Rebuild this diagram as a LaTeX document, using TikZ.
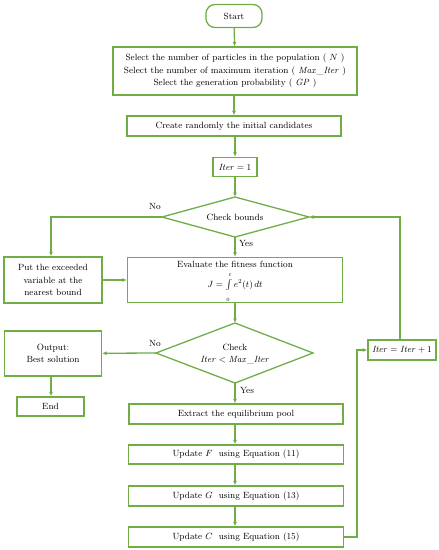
\documentclass[tikz,border=0pt]{standalone}
\usetikzlibrary{arrows.meta,shapes.geometric}
\definecolor{fc}{RGB}{112,173,71}
\begin{document}
\begin{tikzpicture}[x=1pt,y=-1pt,
  every node/.style={font=\fontsize{9}{12.5}\selectfont, inner sep=0pt, align=center},
  box/.style={draw=fc, line width=1.3pt, rectangle},
  lab/.style={font=\fontsize{9}{11}\selectfont},
  conn/.style={draw=fc, line width=1.3pt, -{Latex[length=4.5pt,width=4pt]}},
  plain/.style={draw=fc, line width=1.3pt}]
\useasboundingbox (0,0) rectangle (439,550);
\node[box, rounded corners=9pt, minimum width=56pt, minimum height=23pt] (start) at (234,16) {Start};
\node[box, minimum width=244pt, minimum height=48pt] (sel) at (235,71)
  {Select the number of particles in the population ( $N$ )\\
   Select the number of maximum iteration ( $\mathit{Max}\_\mathit{Iter}$ )\\
   Select the generation probability ( $\mathit{GP}$ )};
\node[box, minimum width=214pt, minimum height=20pt] (create) at (234,126) {Create randomly the initial candidates};
\node[box, minimum width=44pt, minimum height=19pt] (it1) at (235,167) {$\mathit{Iter}=1$};
\coordinate (cbL) at (162,217);
\coordinate (cbR) at (309,217);
\coordinate (cbT) at (235,197);
\coordinate (cbB) at (235,237);
\draw[plain] (cbT) -- (cbR) -- (cbB) -- (cbL) -- cycle;
\node (cb) at (235,217) {Check bounds};
\node[box, minimum width=98pt, minimum height=46pt] (put) at (53,280)
  {Put the exceeded\\ variable at the\\ nearest bound};
\node[box, minimum width=215pt, minimum height=45pt] (eval) at (235,280) {};
\node (evalt) at (235,264) {Evaluate the fitness function};
\node (evalf) at (235,287.5)
  {$J=\int\limits_{\vtop{\kern1pt\hbox{$\scriptscriptstyle 0$}}}^{\vbox{\hbox{$\scriptscriptstyle t$}\kern1pt}}e^2(t)\,dt$};
\coordinate (ckL) at (156,353);
\coordinate (ckR) at (313,353);
\coordinate (ckT) at (235,323);
\coordinate (ckB) at (235,383);
\draw[plain] (ckT) -- (ckR) -- (ckB) -- (ckL) -- cycle;
\node (ck) at (235,354) {Check\\ $\mathit{Iter}<\mathit{Max}\_\mathit{Iter}$};
\node[box, minimum width=97pt, minimum height=45pt] (out) at (53,353.5) {Output:\\ Best solution};
\node[box, minimum width=67pt, minimum height=19pt] (end) at (50.5,406.5) {End};
\node[box, minimum width=214pt, minimum height=20pt] (ext) at (236,414) {Extract the equilibrium pool};
\node[box, minimum width=215pt, minimum height=19pt] (uF) at (236,454.5) {Update $F$ \ using Equation (11)};
\node[box, minimum width=215pt, minimum height=20pt] (uG) at (236,496) {Update $G$ \ using Equation (13)};
\node[box, minimum width=215pt, minimum height=20pt] (uC) at (236,537) {Update $C$ \ using Equation (15)};
\node[box, minimum width=68pt, minimum height=20pt] (inc) at (402,350) {$\mathit{Iter}=\mathit{Iter}+1$};
% connectors
\draw[conn] (start) -- (sel);
\draw[conn] (sel.south -| create) -- (create);
\draw[conn] (create.south -| it1) -- (it1);
\draw[conn] (it1) -- (cbT);
\draw[conn] (cbB) -- (eval.north -| cbB);
\draw[conn] (cbL) -| (put.north -| 51,0);
\draw[conn] (put) -- (eval);
\draw[conn] (eval.south -| ckT) -- (ckT);
\draw[conn] (ckL) -- (out);
\draw[conn] (out.south -| 51,0) -- (end.north -| 51,0);
\draw[conn] (ckB) -- (ext.north -| ckB);
\draw[conn] (ext.south -| ckB) -- (uF.north -| ckB);
\draw[conn] (uF.south -| ckB) -- (uG.north -| ckB);
\draw[conn] (uG.south -| ckB) -- (uC.north -| ckB);
\coordinate (lp) at (357,350);
\draw[conn] (uC.east) -| (lp) -- (inc.west);
\draw[conn] (inc.north -| 400,0) |- (cbR);
\node[lab] (no1) at (155,206) {No};
\node[lab] (yes1) at (246,243.5) {Yes};
\node[lab] (no2) at (155,343) {No};
\node[lab] (yes2) at (247,390) {Yes};
\end{tikzpicture}
\end{document}
